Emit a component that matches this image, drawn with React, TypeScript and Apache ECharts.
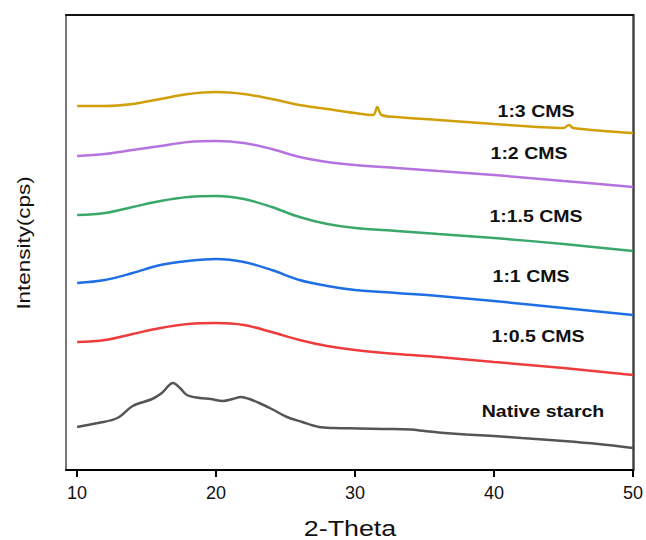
import React, { useEffect, useRef } from "react";
import * as echarts from "echarts";

// 2-Theta (degrees) and relative intensity
const nativeTheta = [10, 11.5, 12.9, 14, 15.4, 16.1, 16.9, 17.4, 17.9, 18.8, 19.6, 20.5, 21.2, 21.8, 22.4, 23.1, 24, 25.1, 26.2, 27.4, 28.5, 30.3, 32, 34, 35, 36, 38, 40, 42, 45, 47.5, 50];
const nativeInt = [43, 47, 52, 64, 71, 77, 87, 82, 75, 72, 71, 69, 71, 73, 71, 67, 61, 53, 48, 43, 42, 41.5, 41, 40.5, 39, 37.5, 35.5, 34, 32, 29, 26, 22];

const cmsTheta = [10, 12, 14, 16, 18, 20, 22, 24, 26, 28, 30, 33, 36, 40, 45, 50];
const cms05Int = [128, 130, 136, 142, 146, 147, 145, 138, 130, 124, 120, 116, 113, 108, 102, 95];
const cms1Int = [187, 190, 197, 205, 209, 211, 208, 200, 190, 184, 180, 177, 174, 169, 162, 155];
const cms15Int = [255, 257, 263, 269, 273, 274, 271, 263, 253, 246, 242, 239, 236, 232, 226, 219];
const cms2Int = [314, 316, 320, 324, 328, 329, 327, 321, 313, 308, 305, 302, 299, 295, 289, 283];

const cms3Theta = [10, 12, 14, 16, 18, 20, 22, 24, 26, 28, 30, 31.3, 31.6, 31.9, 33, 36, 40, 45, 45.4, 45.7, 50];
const cms3Int = [364, 364, 366, 371, 376, 378, 376, 371, 365, 361, 357, 355, 363, 355, 353, 350, 346, 342, 345, 342, 337];

const xTicks = [10, 20, 30, 40, 50];

const seriesNames = ["Native starch", "1:0.5 CMS", "1:1 CMS", "1:1.5 CMS", "1:2 CMS", "1:3 CMS"];
const seriesColors = ["#555555", "#ee3b3b", "#1e6fe6", "#3aa86a", "#b573e0", "#d19f08"];

const pair = (xs: number[], ys: number[]) => xs.map((x, i) => [x, ys[i]]);

export default function App() {
  const ref = useRef<HTMLDivElement>(null);
  useEffect(() => {
    if (!ref.current) return;
    document.body.style.margin = "0";
    const chart = echarts.init(ref.current, null, { renderer: "svg" });
    const datasets = [
      pair(nativeTheta, nativeInt),
      pair(cmsTheta, cms05Int),
      pair(cmsTheta, cms1Int),
      pair(cmsTheta, cms15Int),
      pair(cmsTheta, cms2Int),
      pair(cms3Theta, cms3Int),
    ];
    const labelPos = [
      [543, 412],
      [538, 337],
      [531, 277],
      [536, 217],
      [529, 154],
      [536, 112],
    ];
    const labelFont = "Liberation Sans, Arial, sans-serif";
    chart.setOption({
      animation: false,
      grid: { left: 66, right: 9, top: 15, bottom: 70 },
      xAxis: [
        {
          type: "value",
          min: 9.2,
          max: 50,
          splitLine: { show: false },
          axisLine: { onZero: false, lineStyle: { color: "#000", width: 2 } },
          axisTick: { show: true, customValues: xTicks, length: 7, lineStyle: { color: "#000", width: 2 } },
          axisLabel: {
            customValues: xTicks,
            color: "#111",
            fontSize: 18,
            margin: 14,
            fontFamily: labelFont,
          },
        },
        {
          type: "value",
          position: "top",
          min: 9.2,
          max: 50,
          splitLine: { show: false },
          axisLine: { show: true, onZero: false, lineStyle: { color: "#111", width: 2 } },
          axisTick: { show: false },
          axisLabel: { show: false },
        },
      ],
      yAxis: [
        {
          type: "value",
          min: 0,
          max: 455,
          splitLine: { show: false },
          axisLine: { show: true, onZero: false, lineStyle: { color: "#777", width: 2 } },
          axisTick: { show: false },
          axisLabel: { show: false },
        },
        {
          type: "value",
          position: "right",
          min: 0,
          max: 455,
          splitLine: { show: false },
          axisLine: { show: true, onZero: false, lineStyle: { color: "#444", width: 2.5 } },
          axisTick: { show: false },
          axisLabel: { show: false },
        },
      ],
      series: datasets.map((d, i) => ({
        name: seriesNames[i],
        type: "line",
        data: d,
        showSymbol: false,
        smooth: 0.35,
        lineStyle: { color: seriesColors[i], width: 2.5 },
        itemStyle: { color: seriesColors[i] },
        z: 3,
      })),
      graphic: [
        ...seriesNames.map((name, i) => ({
          type: "text",
          x: labelPos[i][0],
          y: labelPos[i][1],
          scaleX: 1.22,
          z: 10,
          style: {
            text: name,
            fontSize: 16,
            fontWeight: "bold",
            fontFamily: labelFont,
            fill: "#111",
            textAlign: "center",
            textVerticalAlign: "middle",
          },
        })),
        {
          type: "text",
          x: 350,
          y: 528,
          scaleX: 1.22,
          style: {
            text: "2-Theta",
            fontSize: 22,
            fontFamily: labelFont,
            fill: "#111",
            textAlign: "center",
            textVerticalAlign: "middle",
          },
        },
        {
          type: "text",
          x: 23,
          y: 243,
          rotation: Math.PI / 2,
          scaleX: 1.18,
          style: {
            text: "Intensity(cps)",
            fontSize: 19,
            fontFamily: labelFont,
            fill: "#111",
            textAlign: "center",
            textVerticalAlign: "middle",
          },
        },
      ],
    });
    return () => chart.dispose();
  }, []);
  return <div ref={ref} style={{ width: 646, height: 540 }} />;
}
